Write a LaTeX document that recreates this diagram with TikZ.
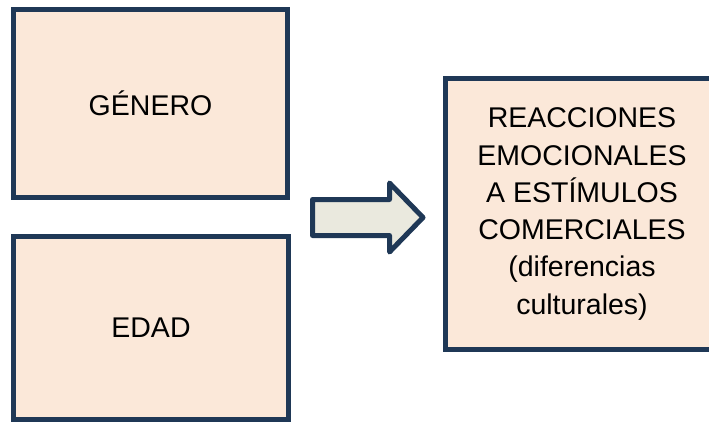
\documentclass[tikz,border=0pt]{standalone}
\usepackage{fontspec}
\setmainfont{Liberation Sans}
\definecolor{navy}{HTML}{1F3856}
\definecolor{peach}{HTML}{FBE8D9}
\definecolor{arrowfill}{HTML}{EAE9DE}
\tikzset{
  box/.style={draw=navy, fill=peach, line width=5pt, rectangle, inner sep=0pt,
    font=\fontsize{28.5}{37.3}\selectfont, align=center, text=black},
  boxtext/.style={inner sep=0pt, font=\fontsize{28.5}{37.3}\selectfont, align=center, text=black},
  boxedge/.style={draw=navy, line width=5pt},
  bigarrow/.style={draw=navy, fill=arrowfill, line width=5pt, line join=round}
}
\begin{document}
\begin{tikzpicture}[x=1pt,y=-1pt]
\useasboundingbox (0,0) rectangle (709,423);
\fill[white] (0,0) rectangle (709,423);
\node[box, minimum width=274pt, minimum height=188pt] (genero) at (150.5,103.5) {GÉNERO};
\node[box, minimum width=275pt, minimum height=183pt] (edad) at (151,328) {EDAD};
\fill[peach] (445.5,78.5) rectangle (709,349.5);
\coordinate (rtop) at (709,78.5);
\coordinate (rbot) at (709,349.5);
\draw[boxedge] (rtop) -- (445.5,78.5) -- (445.5,349.5) -- (rbot);
\node[boxtext] (reac) at (582,214)
  {REACCIONES\\EMOCIONALES\\A ESTÍMULOS\\COMERCIALES\\(diferencias\\culturales)};
\draw[bigarrow] (312.5,199.5) -- (389.5,199.5) -- (389.5,183) -- (423,217.5)
  -- (389.5,252) -- (389.5,235.5) -- (312.5,235.5) -- cycle;
\end{tikzpicture}
\end{document}
